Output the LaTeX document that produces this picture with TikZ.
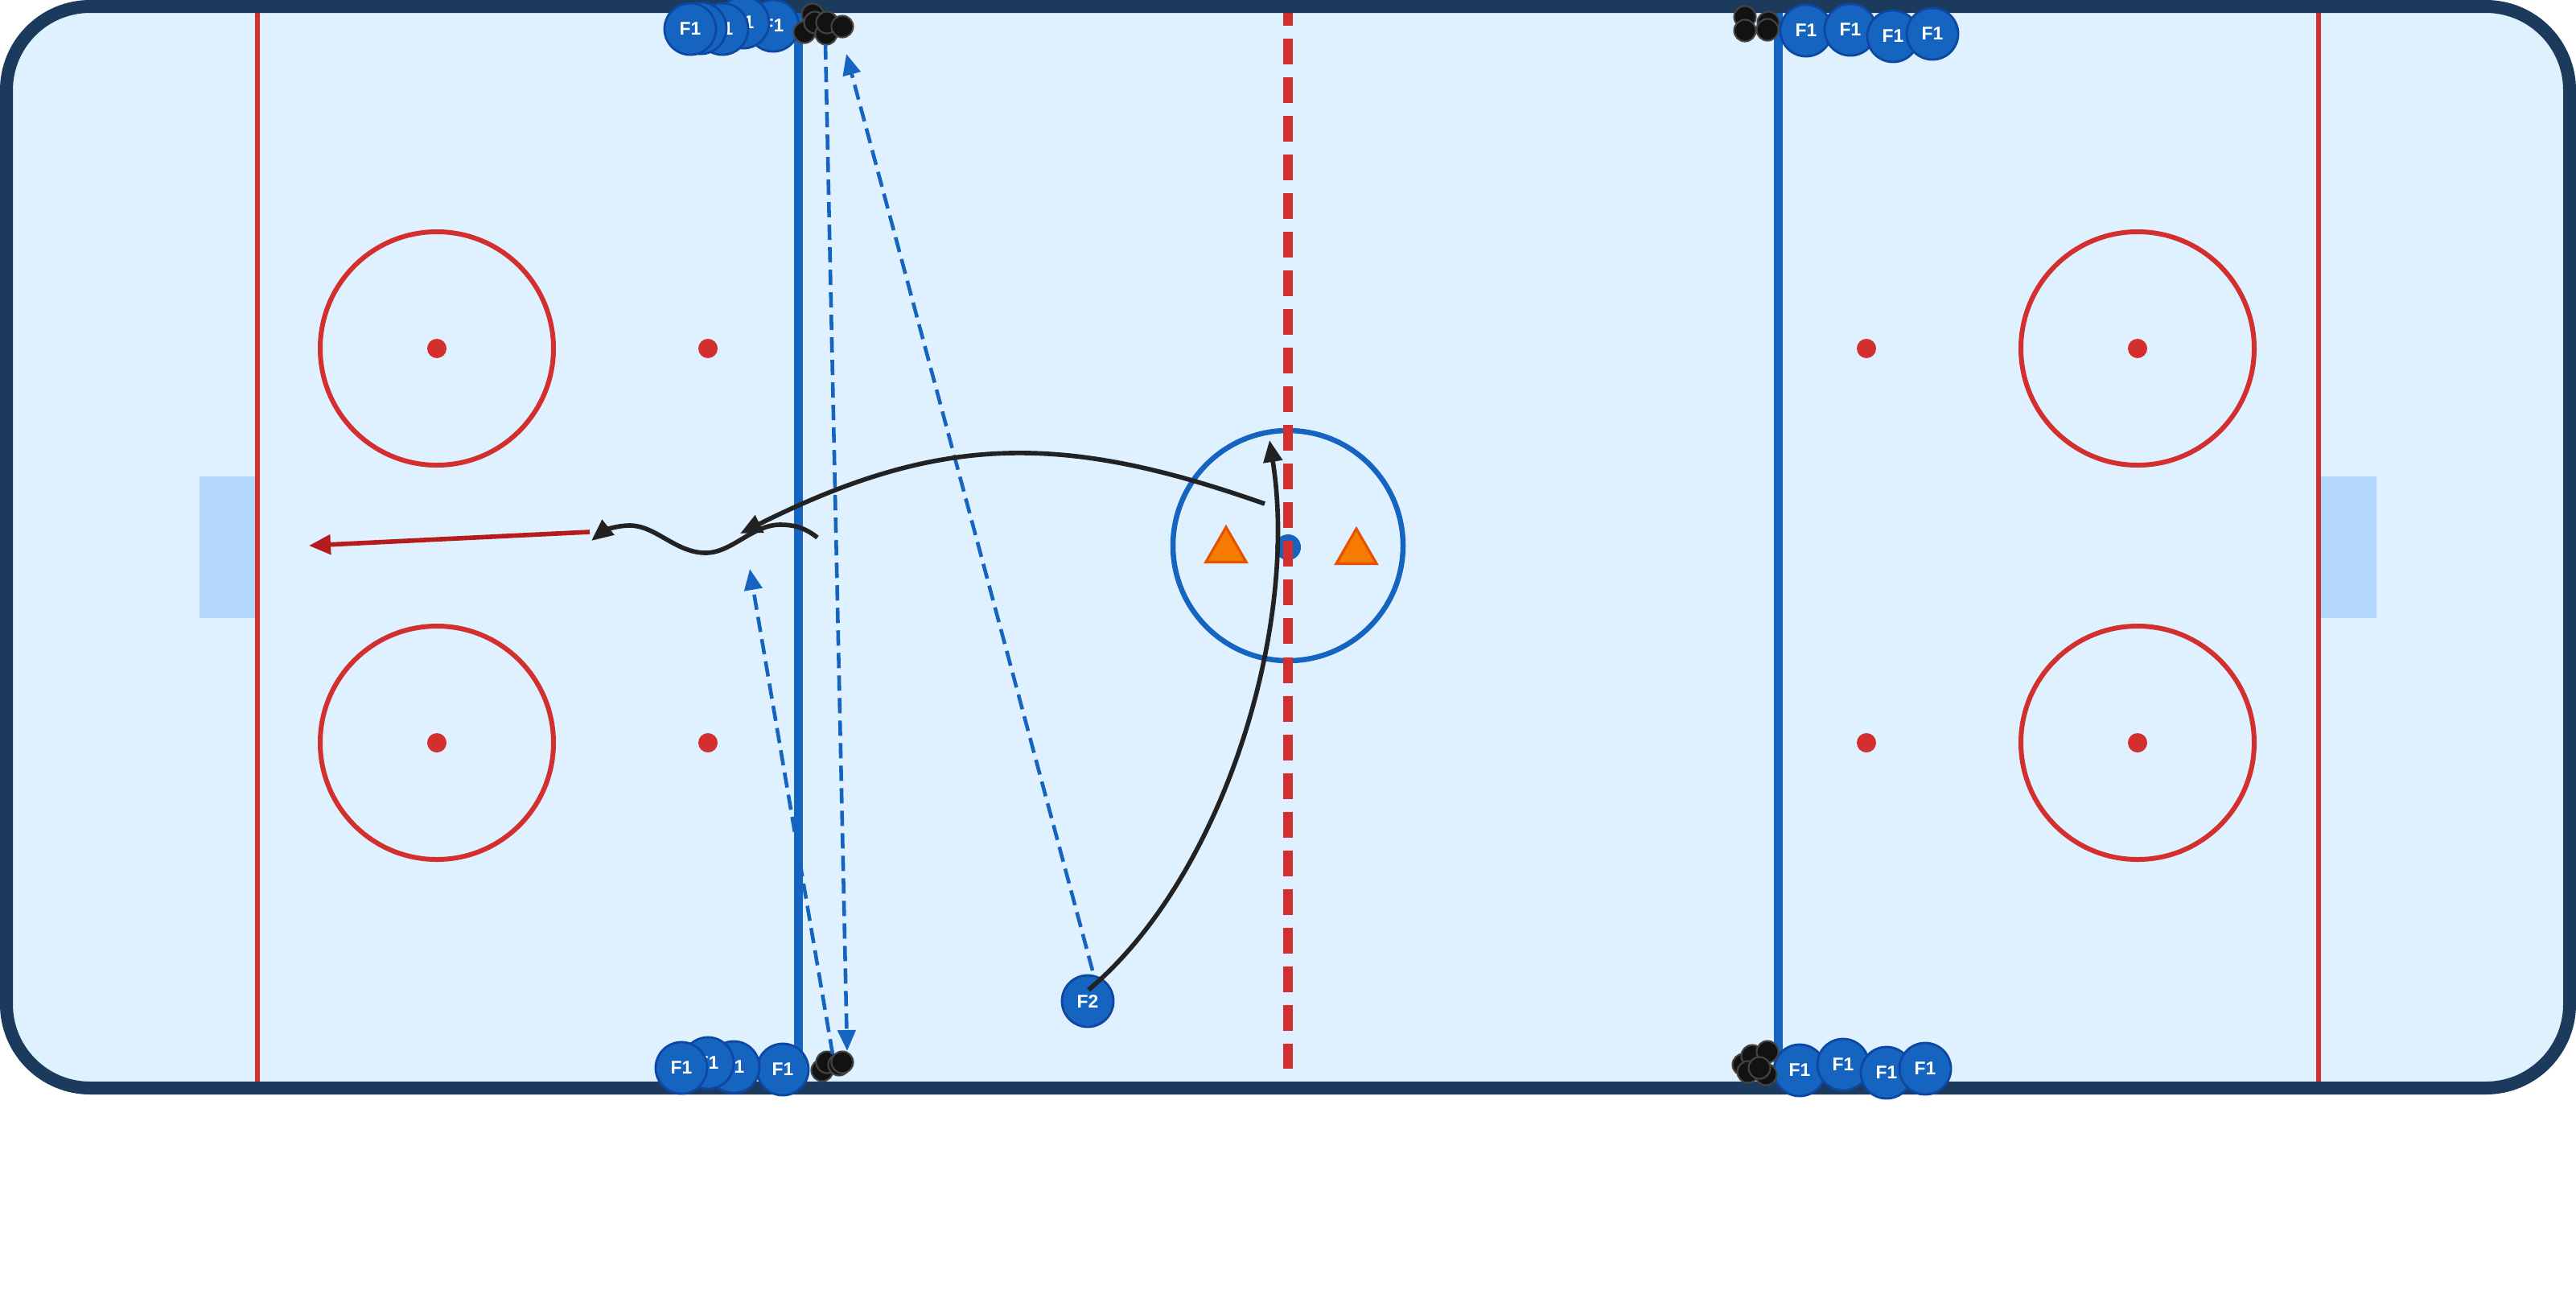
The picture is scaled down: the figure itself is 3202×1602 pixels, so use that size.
\documentclass[tikz,border=0pt]{standalone}
\usepackage{fontspec}
\setsansfont{Liberation Sans}
\usetikzlibrary{arrows.meta,shapes.geometric}

\definecolor{ice}{HTML}{DFF0FE}
\definecolor{boards}{HTML}{1B3A5C}
\definecolor{rinkred}{HTML}{D32F2F}
\definecolor{rinkblue}{HTML}{1565C0}
\definecolor{crease}{HTML}{B3D8FB}
\definecolor{playerline}{HTML}{0D47A1}
\definecolor{puckline}{HTML}{444444}
\definecolor{conefill}{HTML}{F57C00}
\definecolor{coneline}{HTML}{E65100}
\definecolor{shotred}{HTML}{B71C1C}
\definecolor{skateblack}{HTML}{222222}

\tikzstyle{player}= [circle,draw=playerline,fill=rinkblue,line width=0.8pt,minimum size=0.64cm,inner sep=0pt,text=white,font=\sffamily\bfseries\fontsize{6.5}{7}\selectfont]
\tikzstyle{puck}= [circle,draw=puckline,fill=black!93,line width=0.6pt,minimum size=0.27cm,inner sep=0pt]
\tikzstyle{cone}= [regular polygon,regular polygon sides=3,draw=coneline,fill=conefill,line width=0.9pt,minimum size=0.58cm,inner sep=0pt]
\tikzstyle{dot}= [circle,fill=rinkred,minimum size=0.24cm,inner sep=0pt]
\tikzstyle{pass}= [rinkblue,line width=1.3pt,dash pattern=on 0.19cm off 0.09cm,-{Triangle[length=0.26cm,width=0.22cm]}]
\tikzstyle{skate}= [skateblack,line width=1.6pt,-{Triangle[length=0.27cm,width=0.23cm]}]
\tikzstyle{shot}= [shotred,line width=1.6pt,-{Triangle[length=0.27cm,width=0.24cm]}]

\begin{document}
\begin{tikzpicture}[x=0.01cm,y=-0.01cm]

	\fill[white] (0,0) rectangle (3202,1602);
	\useasboundingbox (0,0) rectangle (3202,1602);

	\fill[ice,rounded corners=1.04cm] (8,8) rectangle (3194,1352);
	\fill[crease] (248,592) rectangle (320,768);
	\fill[crease] (2882,592) rectangle (2954,768);
	\draw[rinkred,line width=0.065cm] (320,8) -- (320,1352);
	\draw[rinkred,line width=0.065cm] (2882,8) -- (2882,1352);
	\draw[rinkblue,line width=0.11cm] (992,8) -- (992,1352);
	\draw[rinkblue,line width=0.11cm] (2210,8) -- (2210,1352);

	\draw[rinkred,line width=0.06cm] (543,433) circle[radius=145];
	\draw[rinkred,line width=0.06cm] (543,923) circle[radius=145];
	\draw[rinkred,line width=0.06cm] (2657,433) circle[radius=145];
	\draw[rinkred,line width=0.06cm] (2657,923) circle[radius=145];
	\draw[rinkblue,line width=0.065cm] (1601,678) circle[radius=143];

	\node (c1) at (543,433) [dot] {};
	\node (c2) at (543,923) [dot] {};
	\node (c3) at (2657,433) [dot] {};
	\node (c4) at (2657,923) [dot] {};
	\node (d1) at (880,433) [dot] {};
	\node (d2) at (880,923) [dot] {};
	\node (d3) at (2320,433) [dot] {};
	\node (d4) at (2320,923) [dot] {};
	\node (cdot) at (1601,680) [circle,fill=rinkblue,minimum size=0.32cm,inner sep=0pt] {};

	\draw[rinkred,line width=0.12cm,dash pattern=on 0.32cm off 0.16cm] (1601,0) -- (1601,1328);
	\draw[boards,line width=0.16cm,rounded corners=1.04cm] (8,8) rectangle (3194,1352);

	\node (coneL) at (1524,684) [cone] {};
	\node (coneR) at (1686,686) [cone] {};

	\node (tl5) at (961,32) [player] {F1};
	\node (tl4) at (924,28) [player] {F1};
	\node (tl3) at (898,36) [player] {F1};
	\node (tl2) at (871,35) [player] {F1};
	\node (tl1) at (858,36) [player] {F1};

	\node (bl4) at (973,1329) [player] {F1};
	\node (bl3) at (912,1326) [player] {F1};
	\node (bl2) at (880,1321) [player] {F1};
	\node (bl1) at (847,1327) [player] {F1};

	\node (tr1) at (2245,38) [player] {F1};
	\node (tr2) at (2300,37) [player] {F1};
	\node (tr3) at (2353,45) [player] {F1};
	\node (tr4) at (2402,42) [player] {F1};

	\node (br1) at (2237,1330) [player] {F1};
	\node (br2) at (2291,1323) [player] {F1};
	\node (br3) at (2345,1333) [player] {F1};
	\node (br4) at (2393,1328) [player] {F1};

	\node (F2) at (1352,1244) [player] {F2};

	\node (ptl1) at (1010,18) [puck] {};
	\node (ptl2) at (1000,40) [puck] {};
	\node (ptl3) at (1013,28) [puck] {};
	\node (ptl4) at (1027,42) [puck] {};
	\node (ptl5) at (1028,28) [puck] {};
	\node (ptl6) at (1047,33) [puck] {};

	\node (pbl1) at (1022,1330) [puck] {};
	\node (pbl2) at (1028,1320) [puck] {};
	\node (pbl3) at (1043,1323) [puck] {};
	\node (pbl4) at (1047,1320) [puck] {};

	\node (ptr1) at (2169,21) [puck] {};
	\node (ptr2) at (2169,38) [puck] {};
	\node (ptr3) at (2198,28) [puck] {};
	\node (ptr4) at (2197,37) [puck] {};

	\node (pbr1) at (2167,1323) [puck] {};
	\node (pbr2) at (2178,1312) [puck] {};
	\node (pbr3) at (2197,1307) [puck] {};
	\node (pbr4) at (2195,1335) [puck] {};
	\node (pbr5) at (2173,1332) [puck] {};
	\node (pbr6) at (2187,1327) [puck] {};

	\coordinate (p1s) at (1358,1206);
	\coordinate (p1e) at (1052,67);
	\coordinate (p2s) at (1026,55);
	\coordinate (p2e) at (1053,1306);
	\coordinate (p3s) at (1035,1310);
	\coordinate (p3e) at (932,707);
	\path[pass] (p1s) edge[] node {} (p1e);
	\path[pass] (p2s) edge[] node {} (p2e);
	\path[pass] (p3s) edge[] node {} (p3e);

	\coordinate (f2a) at (1353,1230);
	\coordinate (k1e) at (1578,547);
	\draw[skate] (f2a) .. controls (1520,1090) and (1615,780) .. (k1e);

	\coordinate (k2s) at (1572,626);
	\coordinate (k2e) at (920,663);
	\draw[skate] (k2s) .. controls (1322,538) and (1170,538) .. (k2e);

	\coordinate (w1) at (1016,668);
	\coordinate (w2) at (735,672);
	\draw[skate] (w1) .. controls (1000,655) and (985,652) .. (970,652)
		.. controls (935,652) and (910,687) .. (877,687)
		.. controls (840,687) and (815,653) .. (783,653)
		.. controls (765,653) and (750,660) .. (w2);

	\coordinate (s1) at (733,661);
	\coordinate (s2) at (384,678);
	\path[shot] (s1) edge[] node {} (s2);

\end{tikzpicture}
\end{document}
